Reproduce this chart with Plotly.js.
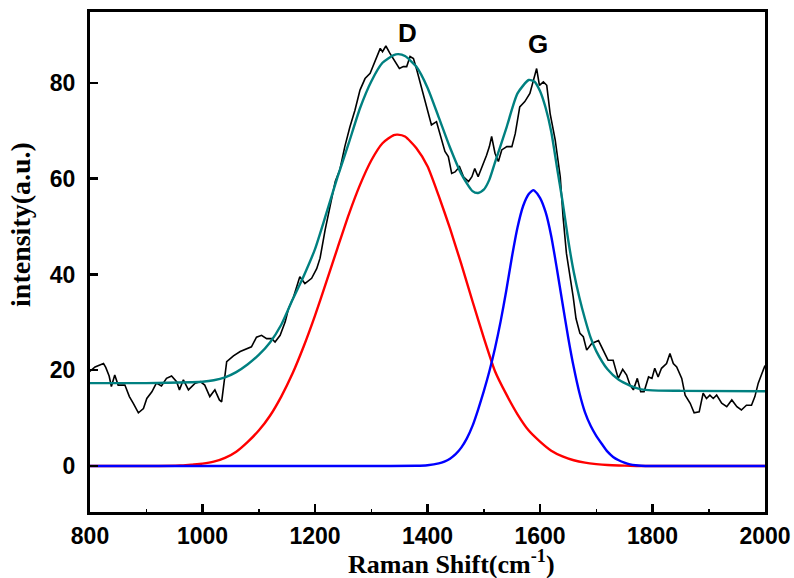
<!DOCTYPE html>
<html>
<head>
<meta charset="utf-8">
<script src="https://cdn.plot.ly/plotly-3.0.1.min.js"></script>
<style>html,body{margin:0;padding:0;background:#fff;}#chart{width:794px;height:578px;}</style>
</head>
<body>
<div id="chart"></div>
<script>
// Raw Raman spectrum (black)
const rawX = [799,809,824,828,834,838,844,850,862,870,877,886,895,901,910,918,927,936,945,954,959,966,975,987,996,1004,1013,1022,1030,1034,1043,1055,1067,1079,1087,1096,1105,1114,1123,1129,1138,1147,1153,1161,1167,1173,1182,1194,1203,1209,1218,1227,1236,1244,1253,1262,1271,1280,1289,1298,1304,1310,1316,1320,1326,1333,1342,1350,1357,1363,1369,1375,1381,1387,1393,1400,1407,1416,1422,1431,1437,1443,1449,1457,1464,1473,1479,1484,1490,1496,1505,1510,1514,1520,1526,1532,1541,1550,1556,1564,1573,1582,1588,1594,1599,1606,1612,1618,1627,1636,1641,1647,1659,1664,1671,1677,1683,1692,1704,1713,1721,1730,1739,1747,1754,1760,1766,1773,1779,1785,1793,1799,1804,1810,1816,1825,1831,1837,1843,1852,1858,1867,1874,1883,1890,1896,1902,1908,1914,1923,1932,1941,1950,1958,1967,1976,1982,1988,1997,2000];
const rawY = [19.7,20.7,21.4,20.6,18.8,16.6,19,16.9,16.9,14.5,13.1,11.1,12,14.1,15.5,17.3,16.7,18.3,18.8,17.6,15.9,18,15.9,17.3,17.6,16.9,14.5,15.9,13.8,13.4,21.8,23,23.9,24.4,24.9,26.9,27.3,26.6,26.6,25.9,27.3,30.1,32.9,35,37.4,39.5,38.1,39.2,41.2,43.4,49.3,54.1,59.4,61.8,66.7,70.8,74.3,78.5,80.9,82,83.7,85.1,87.2,86.5,87.7,86.2,84.4,83,83.4,83.4,85.5,85.1,82.7,79.9,77.1,74.3,71.2,71.9,69.4,65.7,64.6,61.1,61.4,62.5,60.4,59.4,60.4,62.1,60.4,62.1,64.9,66.7,68.8,65.3,63.6,66,66.7,66.7,69.4,75,76.1,77.8,80.2,83,79.5,80.2,79.5,73.6,68.1,60.4,52,44.4,35.3,30.8,27.7,27,24.2,25.6,26.2,24.2,22.1,22.1,18.3,20.2,19,16.9,15.9,18.3,15.5,15.5,18.6,18.3,20.4,18.6,20.4,21.4,23.5,21.4,20.7,18.3,14.8,13.1,11.1,11.3,15.2,14.1,14.8,14.1,14.8,13.1,12.4,13.8,12.4,11.7,12.7,12.7,14.5,17.3,20,21];

// Cumulative fit (teal)
const fitX = [800,900,980,1000,1020,1040,1060,1080,1100,1120,1140,1160,1180,1200,1220,1240,1260,1280,1300,1320,1340,1348,1360,1380,1400,1420,1440,1460,1480,1490,1500,1510,1520,1540,1560,1580,1590,1600,1610,1620,1630,1640,1650,1660,1670,1680,1690,1700,1720,1740,1760,1780,1800,1850,2000];
const fitY = [17.3,17.3,17.5,17.6,17.9,18.5,19.6,21.2,23.2,25.8,29.5,34.7,39.7,45.3,52.7,60.3,67.4,74.7,80.3,84.2,85.8,86.0,85.6,83.4,79.0,72.8,66.5,61.0,57.4,57.0,57.7,59.8,63.4,70.5,77.8,80.6,80.3,78.3,74.8,69.8,62.5,55.3,47.3,40.5,35.2,30.7,26.8,24.0,20.2,18.0,16.8,16.0,15.8,15.7,15.6];

// D band component (red)
const dX = [800,900,960,980,1000,1020,1040,1060,1080,1100,1120,1140,1160,1180,1200,1220,1240,1260,1280,1300,1320,1340,1347,1360,1380,1400,1420,1440,1460,1480,1500,1520,1540,1560,1580,1600,1620,1640,1660,1680,1700,1720,1740,1760,1780,2000];
const dY = [0,0,0.1,0.3,0.5,0.9,1.7,3.0,5.0,7.4,10.5,14.5,19.3,25.0,31.4,38.4,45.5,52.5,58.7,63.8,67.4,69.1,69.2,68.8,66.4,62.6,56.4,49.6,42.2,34.4,26.8,19.8,15.0,10.8,7.4,5.1,3.2,2.0,1.2,0.7,0.4,0.2,0.1,0.05,0,0];

// G band component (blue)
const gX = [800,1300,1380,1400,1420,1430,1440,1450,1460,1470,1480,1490,1500,1510,1520,1530,1540,1550,1560,1570,1580,1588,1590,1600,1610,1620,1630,1640,1650,1660,1670,1680,1690,1700,1710,1720,1730,1740,1750,1760,1770,1780,1800,2000];
const gY = [0,0,0.05,0.17,0.54,0.93,1.54,2.47,3.84,5.77,8.38,11.8,15.6,19.8,24.6,30.2,36.6,43.6,49.8,54.3,56.8,57.6,57.5,56.0,53.0,48.0,41.2,34.0,26.9,20.6,15.3,11.2,8.4,6.3,4.6,3.0,1.9,1.2,0.7,0.35,0.15,0.05,0,0];

const xTicks = [800,1000,1200,1400,1600,1800,2000];
const yTicks = [0,20,40,60,80];
const bandLabels = [{t:'D', x:1364, y:90.5},{t:'G', x:1596, y:88.1}];

const traces = [
  {x: rawX, y: rawY, type:'scatter', mode:'lines', line:{color:'#000000', width:1.6}, showlegend:false},
  {x: dX, y: dY, type:'scatter', mode:'lines', line:{color:'#ff0000', width:2.4, shape:'spline', smoothing:0.6}, showlegend:false},
  {x: gX, y: gY, type:'scatter', mode:'lines', line:{color:'#0000ff', width:2.4, shape:'spline', smoothing:0.6}, showlegend:false},
  {x: fitX, y: fitY, type:'scatter', mode:'lines', line:{color:'#008080', width:2.4, shape:'spline', smoothing:0.6}, showlegend:false}
];

const tickFont = {family:'Liberation Sans, Arial, sans-serif', size:23, color:'#000', weight:'bold'};
const annotations = bandLabels.map(b => ({
  x:b.x, y:b.y, xref:'x', yref:'y', text:b.t, showarrow:false,
  font:{family:'Liberation Sans, Arial, sans-serif', size:26, color:'#000', weight:'bold'},
  xanchor:'center', yanchor:'middle'
}));
annotations.push({
  x:0.535, y:-0.1, xref:'paper', yref:'paper', text:'Raman Shift(cm<sup>-1</sup>)', showarrow:false,
  font:{family:'Liberation Serif, Times New Roman, serif', size:26, color:'#000', weight:'bold'},
  xanchor:'center', yanchor:'middle'
});
annotations.push({
  x:-0.103, y:0.575, xref:'paper', yref:'paper', text:'intensity(a.u.)', showarrow:false, textangle:-90,
  font:{family:'Liberation Serif, Times New Roman, serif', size:28, color:'#000', weight:'bold'},
  xanchor:'center', yanchor:'middle'
});

const layout = {
  width:794, height:578,
  margin:{l:90, r:29, t:12, b:66},
  paper_bgcolor:'#ffffff', plot_bgcolor:'#ffffff',
  xaxis:{
    range:[800,2000], tickvals:xTicks, ticktext:xTicks.map(String),
    showgrid:false, zeroline:false, showline:true, linecolor:'#000', linewidth:3, mirror:true,
    ticks:'inside', ticklen:8, tickwidth:2.5, tickcolor:'#000',
    minor:{dtick:100, tick0:800, ticks:'inside', ticklen:3, tickwidth:1.5, tickcolor:'#000', showgrid:false},
    tickfont:tickFont, ticklabelstandoff:1
  },
  yaxis:{
    range:[-9.6,94.8], tickvals:yTicks, ticktext:yTicks.map(String),
    showgrid:false, zeroline:false, showline:true, linecolor:'#000', linewidth:3, mirror:true,
    ticks:'inside', ticklen:8, tickwidth:2.5, tickcolor:'#000',
    tickfont:tickFont, ticklabelstandoff:7
  },
  annotations: annotations
};

Plotly.newPlot('chart', traces, layout, {displayModeBar:false, staticPlot:true});
</script>
</body>
</html>
